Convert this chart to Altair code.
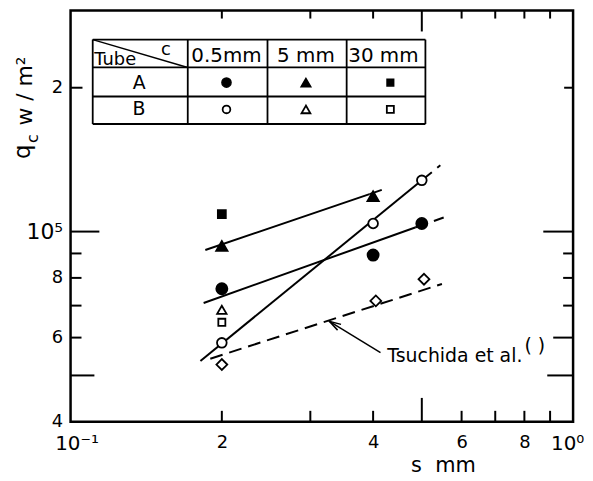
import altair as alt
import pandas as pd

FONT = "DejaVu Sans"

# ---------------- data ----------------
# Tube A (filled symbols): c = 0.5 mm, 5 mm, 30 mm
sA_05 = [0.2, 0.4, 0.5]
qA_05 = [75900, 89300, 104000]
sA_5 = [0.2, 0.4]
qA_5 = [93300, 118600]
sA_30 = [0.2]
qA_30 = [108800]
# Tube B (open symbols)
sB_05 = [0.2, 0.4, 0.5]
qB_05 = [58500, 104000, 128000]
sB_5 = [0.2]
qB_5 = [68600]
sB_30 = [0.2]
qB_30 = [64600]
# Tsuchida et al. (open diamonds)
sT = [0.2, 0.405, 0.505]
qT = [52700, 71600, 79500]

# correlation lines: solid part and dashed extension (end points)
lineA5_s, lineA5_q = [0.1854, 0.3935], [91500, 119800]
lineA5x_s, lineA5x_q = [0.3935, 0.427], [119800, 123400]
lineA05_s, lineA05_q = [0.184, 0.485], [70900, 102000]
lineA05x_s, lineA05x_q = [0.485, 0.5527], [102000, 107000]
lineB05_s, lineB05_q = [0.1813, 0.5], [53600, 128000]
lineB05x_s, lineB05x_q = [0.5, 0.5443], [128000, 137600]
lineT_s, lineT_q = [0.1897, 0.5483], [54200, 77700]

# annotation arrow (tail -> tip) and label anchor
arrow_s, arrow_q = [0.4138, 0.3274], [55800, 64900]
label_s, label_q = 0.427, 54800
ref_s, ref_q = 0.80, 57500

# axis tick values / labels
x_label_vals = [0.1, 0.2, 0.4, 0.6, 0.8, 1.0]
y_label_vals = [40000, 60000, 80000, 100000, 200000]
x_minor = [0.2, 0.3, 0.4, 0.6, 0.7, 0.8, 0.9]
x_major = [0.5]

W, H = 506, 414
xs = alt.Scale(type="log", domain=[0.1, 1.0], nice=False)
ys = alt.Scale(type="log", domain=[40000, 290000], nice=False)

xaxis = alt.Axis(
    values=x_label_vals, ticks=False, domain=False, grid=False, labelFlush=False,
    labelExpr="datum.value < 0.15 ? '10\u207b\u00b9' : datum.value > 0.95 ? '10\u2070' : format(datum.value*10, 'd')",
    labelFont=FONT, labelColor="black", labelPadding=12,
    labelFontSize={"condition": {"test": "datum.value < 0.15 || datum.value > 0.95", "value": 20}, "value": 18},
    labelOffset={"condition": [{"test": "datum.value < 0.15", "value": 6},
                               {"test": "datum.value > 0.95", "value": -6}],
                 "value": 0},
    title="s\u00a0\u00a0mm", titleFont=FONT, titleFontSize=21, titleFontWeight="normal", titleColor="black",
    titleX=375, titleY=44, titleBaseline="middle", titleAlign="center",
)
yaxis = alt.Axis(
    values=y_label_vals, ticks=False, domain=False, grid=False, labelFlush=False,
    labelExpr="datum.value > 150000 ? '2' : datum.value > 95000 ? '10\u2075' : format(datum.value/10000, 'd')",
    labelFont=FONT, labelColor="black", labelPadding=8,
    labelFontSize={"condition": {"test": "datum.value > 95000 && datum.value < 150000", "value": 22}, "value": 18},
    title="",
)

def X():
    return alt.X("s:Q", scale=xs, axis=xaxis)

def Y():
    return alt.Y("q:Q", scale=ys, axis=yaxis)

# ---------------- points ----------------
kinds = ["A05", "A5", "A30", "B05", "B5", "B30", "T"]
shapes = ["circle", "triangle-up", "square", "circle", "triangle-up", "square", "diamond"]
fills = ["black", "black", "black", "white", "white", "white", "white"]
sizes = [125, 130, 64, 95, 90, 50, 120]
series = [(sA_05, qA_05), (sA_5, qA_5), (sA_30, qA_30), (sB_05, qB_05),
          (sB_5, qB_5), (sB_30, qB_30), (sT, qT)]

# ---------------- lines ----------------
def seg_df(pairs):
    r = []
    for name, (ss, qq) in pairs.items():
        for a, b in zip(ss, qq):
            r.append({"s": a, "q": b, "seg": name})
    return pd.DataFrame(r)

solid = seg_df({"A5": (lineA5_s, lineA5_q), "A05": (lineA05_s, lineA05_q),
                "B05": (lineB05_s, lineB05_q)})
dashed = seg_df({"A5x": (lineA5x_s, lineA5x_q), "A05x": (lineA05x_s, lineA05x_q),
                 "B05x": (lineB05x_s, lineB05x_q), "T": (lineT_s, lineT_q)})

layers = []

# tick marks pointing inward
def vticks(vals, y0, y1):
    return alt.Chart(pd.DataFrame({"s": vals})).mark_rule(color="black", strokeWidth=2).encode(
        x=X(), y=alt.value(y0), y2=alt.value(y1))

def hticks(vals, x0, x1):
    return alt.Chart(pd.DataFrame({"q": vals})).mark_rule(color="black", strokeWidth=2).encode(
        y=Y(), x=alt.value(x0), x2=alt.value(x1))

layers += [
    vticks(x_minor, H, H - 11), vticks(x_major, H, H - 24),
    vticks(x_minor, 0, 8), vticks(x_major, 0, 21),
    hticks([200000], 0, 12), hticks([100000], 0, 29), hticks([90000, 80000, 70000, 60000], 0, 11),
    hticks([50000], 0, 24),
    hticks([200000], W, W - 9), hticks([100000], W, W - 30), hticks([90000, 80000, 70000], W, W - 10),
    hticks([60000], W, W - 20), hticks([50000], W, W - 26),
]

# lines
layers.append(alt.Chart(solid).mark_line(color="black", strokeWidth=2).encode(x=X(), y=Y(), detail="seg:N"))
layers.append(alt.Chart(dashed).mark_line(color="black", strokeWidth=2, strokeDash=[13, 7]).encode(
    x=X(), y=Y(), detail="seg:N"))

# arrow
arr = pd.DataFrame({"s": arrow_s, "q": arrow_q})
layers.append(alt.Chart(arr).mark_line(color="black", strokeWidth=1.5).encode(x=X(), y=Y()))
layers.append(alt.Chart(arr.iloc[[1]]).mark_point(
    shape="M -0.55 1.9 L 0 0 L 0.55 1.9", filled=False, stroke="black", strokeWidth=1.5,
    size=150, angle=301, opacity=1).encode(x=X(), y=Y()))

# points, one layer per symbol
for k, shp, fl, sz, (ss, qq) in zip(kinds, shapes, fills, sizes, series):
    df = pd.DataFrame({"s": ss, "q": qq})
    layers.append(alt.Chart(df).mark_point(shape=shp, filled=True, fill=fl, stroke="black",
                                           strokeWidth=1.8, size=sz, opacity=1).encode(x=X(), y=Y()))

# Tsuchida label
layers.append(alt.Chart(pd.DataFrame({"s": [label_s], "q": [label_q]})).mark_text(
    text="Tsuchida et al.", font=FONT, fontSize=19, align="left", baseline="middle", color="black"
).encode(x=X(), y=Y()))
layers.append(alt.Chart(pd.DataFrame({"s": [ref_s], "q": [ref_q]})).mark_text(
    text="( )", font=FONT, fontSize=19, align="left", baseline="middle", color="black"
).encode(x=X(), y=Y()))

one = pd.DataFrame({"a": [0]})

def txt(t, x, y, size, angle=0, align="center"):
    return alt.Chart(one).mark_text(text=t, font=FONT, fontSize=size, angle=angle, align=align,
                                    baseline="middle", color="black").encode(
        x=alt.value(x), y=alt.value(y))

# y-axis title pieces (rotated)
layers += [
    txt("w / m\u00b2", -46, 81, 22, angle=270),
    txt("q", -48, 142, 23, angle=270),
    txt("c", -38, 129, 16, angle=270),
]

# inset table
tl, tr = 22.3, 357.3
rows_y = [29.2, 57.2, 86.5, 114.2]
cols_x = [22.3, 118, 198.3, 278, 357.3]
for yy in rows_y:
    layers.append(alt.Chart(one).mark_rule(color="black", strokeWidth=1.8).encode(
        x=alt.value(tl), x2=alt.value(tr), y=alt.value(yy)))
for xx in cols_x:
    layers.append(alt.Chart(one).mark_rule(color="black", strokeWidth=1.8).encode(
        x=alt.value(xx), y=alt.value(rows_y[0]), y2=alt.value(rows_y[-1])))
layers.append(alt.Chart(one).mark_rule(color="black", strokeWidth=1.5).encode(
    x=alt.value(cols_x[0]), x2=alt.value(cols_x[1]), y=alt.value(rows_y[0]), y2=alt.value(rows_y[1])))

col_c = [157, 237, 315]
row_c = [72.5, 99.5]
layers += [
    txt("Tube", 45, 49.5, 18),
    txt("c", 96, 39.5, 18),
    txt("0.5mm", col_c[0], 45.5, 20),
    txt("5 mm", col_c[1], 45.5, 20),
    txt("30 mm", col_c[2], 45.5, 20),
    txt("A", 69, row_c[0], 19),
    txt("B", 69, row_c[1], 19),
]
sym_x = [157, 237, 322]
tab_shapes = ["circle", "triangle-up", "square"]
tab_sizes_f = [85, 95, 45]
tab_sizes_o = [60, 80, 50]
for i in range(3):
    layers.append(alt.Chart(one).mark_point(shape=tab_shapes[i], filled=True, fill="black", stroke="black",
                                            strokeWidth=1.5, size=tab_sizes_f[i], opacity=1).encode(
        x=alt.value(sym_x[i]), y=alt.value(row_c[0])))
    layers.append(alt.Chart(one).mark_point(shape=tab_shapes[i], filled=True, fill="white", stroke="black",
                                            strokeWidth=1.8, size=tab_sizes_o[i], opacity=1).encode(
        x=alt.value(sym_x[i]), y=alt.value(row_c[1])))

chart = alt.layer(*layers).properties(
    width=W, height=H,
    background="white",
    autosize=alt.AutoSizeParams(type="none"),
    padding={"left": 63, "top": 1, "right": 12, "bottom": 53},
).configure_view(stroke="black", strokeWidth=2.5)

chart.save("out.html", embed_options={"renderer": "svg", "actions": False})
